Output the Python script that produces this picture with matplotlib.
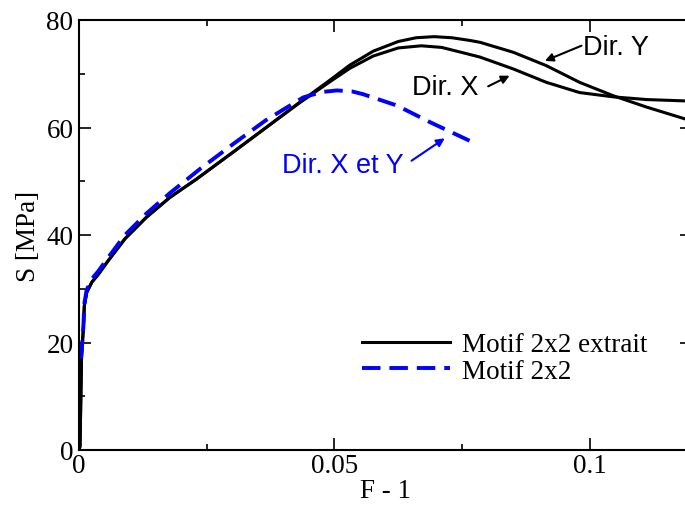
import matplotlib
matplotlib.use("Agg")
import matplotlib.pyplot as plt
from matplotlib.ticker import MultipleLocator

# ---- data ----
dir_y_x = [0, 0.0002, 0.0005, 0.00085, 0.00104, 0.0015, 0.0025, 0.0038, 0.0057, 0.009,
           0.0132, 0.0178, 0.023, 0.030, 0.0365, 0.0432, 0.0491, 0.053, 0.0576, 0.0625,
           0.066, 0.0695, 0.073, 0.0765, 0.0785, 0.085, 0.0915, 0.098, 0.1046, 0.1111, 0.12]
dir_y_s = [0, 0.7, 17.5, 22.5, 26.8, 29.3, 31.2, 32.7, 35.2, 39.3,
           43.3, 47.0, 50.4, 55.3, 59.9, 64.7, 68.8, 71.6, 74.2, 76.0,
           76.7, 76.9, 76.7, 76.2, 75.85, 74.0, 71.5, 68.4, 65.9, 63.8, 61.2]

dir_x_x = [0, 0.0002, 0.0005, 0.00085, 0.00104, 0.0015, 0.0025, 0.0038, 0.0057, 0.009,
           0.0132, 0.0178, 0.023, 0.030, 0.0365, 0.0432, 0.0491, 0.053, 0.0576, 0.0625,
           0.067, 0.071, 0.0752, 0.0785, 0.085, 0.0915, 0.098, 0.1046, 0.1111, 0.12]
dir_x_s = [0, 0.7, 17.5, 22.5, 26.8, 29.3, 31.2, 32.7, 35.2, 39.3,
           43.3, 47.0, 50.4, 55.3, 59.9, 64.6, 68.5, 71.0, 73.3, 74.8,
           75.2, 74.9, 73.9, 73.1, 70.9, 68.4, 66.5, 65.7, 65.2, 64.9]

blue_x = [0.0004, 0.00085, 0.00104, 0.0015, 0.0025, 0.0038, 0.0057, 0.009, 0.0132, 0.0178,
          0.0237, 0.030, 0.0365, 0.0439, 0.0475, 0.0505, 0.0535, 0.0556, 0.0622, 0.0687,
          0.0772]
blue_s = [17.0, 22.8, 27.2, 29.8, 31.8, 33.3, 35.8, 40.0, 44.0, 47.8,
          52.3, 56.8, 61.3, 65.6, 66.6, 66.9, 66.7, 66.2, 64.1, 61.0,
          57.2]

label_black = "Motif 2x2 extrait"
label_blue = "Motif 2x2"
xticks = [0, 0.05, 0.1]
xtick_labels = ["0", "0.05", "0.1"]
yticks = [0, 20, 40, 60, 80]

serif = ["Liberation Serif", "DejaVu Serif"]
sans = ["Liberation Sans", "DejaVu Sans"]

fig = plt.figure(figsize=(6.85, 5.10), dpi=100)
ax = fig.add_axes([79/685, 1-451/510, (692-79)/685, (451-21)/510])

ax.plot(dir_y_x, dir_y_s, color="black", lw=2.2, label=label_black)
ax.plot(dir_x_x, dir_x_s, color="black", lw=2.2)
ax.plot(blue_x, blue_s, color="#0000ff", lw=2.8, dashes=(4.75, 2.3), label=label_blue)

ax.set_xlim(0, 0.12)
ax.set_ylim(0, 80)
ax.set_xticks(xticks)
ax.set_xticklabels(xtick_labels)
ax.set_yticks(yticks)
ax.xaxis.set_minor_locator(MultipleLocator(0.025))
ax.yaxis.set_minor_locator(MultipleLocator(10))
ax.tick_params(which="both", direction="in", top=True, right=True, width=1.2)
ax.tick_params(which="major", length=8.5)
ax.tick_params(which="minor", length=4.3)
ax.tick_params(axis="y", which="major", pad=4)
ax.tick_params(axis="x", which="major", pad=2)
for lab in ax.get_xticklabels() + ax.get_yticklabels():
    lab.set_family(serif)
    lab.set_fontsize(19.5)
for sp in ax.spines.values():
    sp.set_linewidth(1.5)

ax.set_xlabel("F - 1", family=serif, fontsize=19.5, labelpad=0)
ax.set_ylabel("S [MPa]", family=serif, fontsize=19.5, labelpad=4)

arrowprops = dict(arrowstyle="-|>", color="black", lw=1.5, mutation_scale=12,
                  shrinkA=0, shrinkB=0)
ax.annotate("", xy=(0.0912, 72.4), xytext=(0.09837, 75.22), arrowprops=arrowprops)
ax.text(0.0986, 73.67, "Dir. Y", family=sans, fontsize=19.5, ha="left", va="baseline")
ax.annotate("", xy=(0.0843, 69.64), xytext=(0.0801, 67.66), arrowprops=arrowprops)
ax.text(0.0652, 66.23, "Dir. X", family=sans, fontsize=19.5, ha="left", va="baseline")
bprops = dict(arrowprops, color="#0000ff")
ax.annotate("", xy=(0.0716, 57.99), xytext=(0.0651, 53.82), arrowprops=bprops)
ax.text(0.03967, 51.67, "Dir. X et Y", family=sans, fontsize=19.5, ha="left",
        va="baseline", color="#0000ff")

leg = ax.legend(loc="upper left", bbox_to_anchor=((362-79)/613, (451-333)/430),
                frameon=False, prop={"family": serif, "size": 19.5},
                handlelength=3.26, handletextpad=0.45, labelspacing=0.06,
                borderpad=0, borderaxespad=0)

fig.savefig("out.png", dpi=100)
